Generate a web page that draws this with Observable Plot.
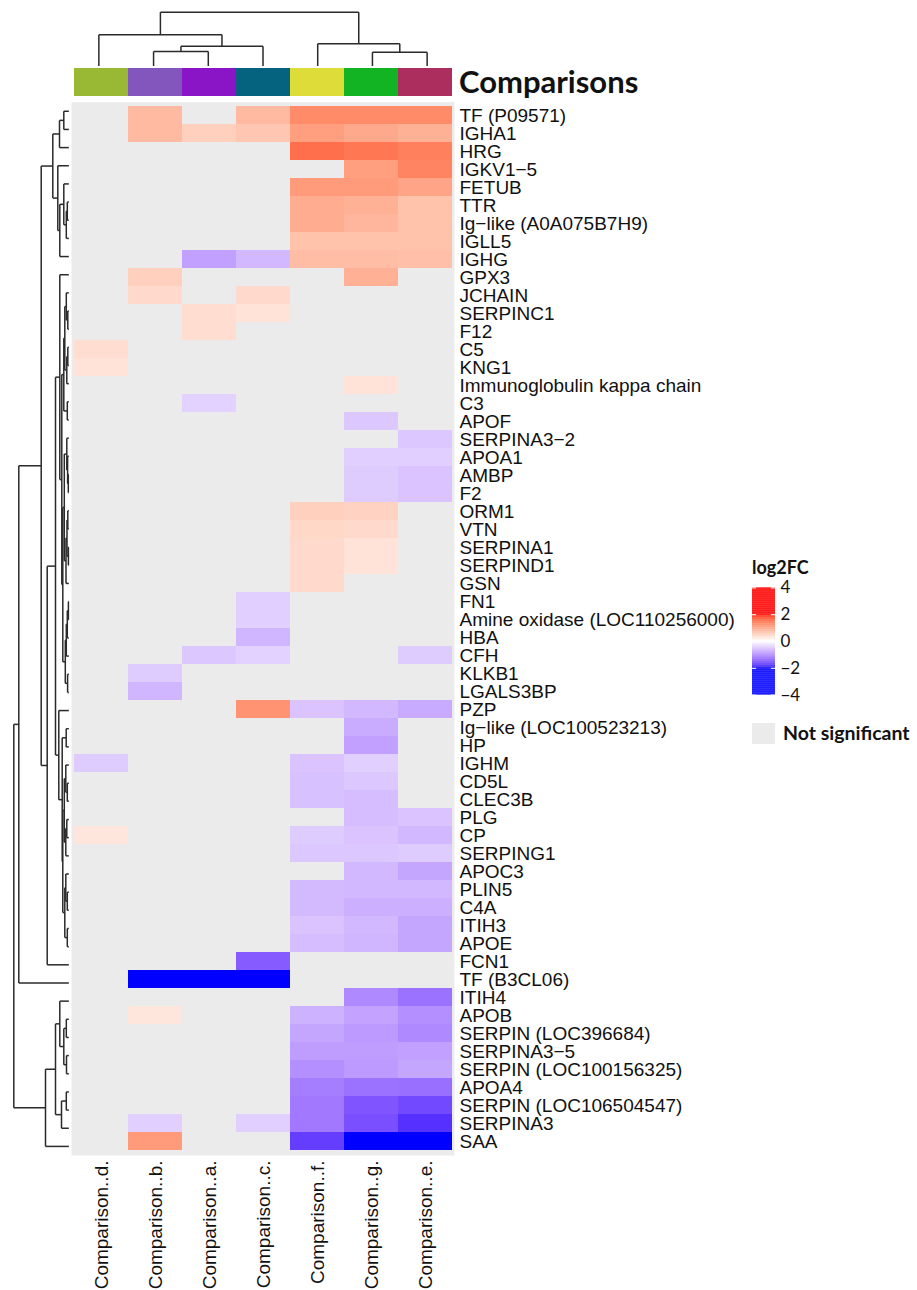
<!DOCTYPE html>
<html><head><meta charset="utf-8">
<script src="https://cdn.jsdelivr.net/npm/d3@7"></script>
<script src="https://cdn.jsdelivr.net/npm/@observablehq/plot@0.6"></script>
<style>
html,body{margin:0;padding:0;background:#fff;}
#chart{position:relative;width:917px;height:1290px;overflow:hidden;font-family:"Liberation Sans",Arial,sans-serif;}
#chart > *{position:absolute;}
.lbl{font-family:Lato,"Liberation Sans",sans-serif;font-weight:bold;color:#111;white-space:nowrap;}
</style></head><body><div id="chart"></div>
<script>
// ---------- data ----------
const columns = ["Comparison..d.", "Comparison..b.", "Comparison..a.", "Comparison..c.", "Comparison..f.", "Comparison..g.", "Comparison..e."];
const columnColors = ["#99B935", "#8356BE", "#8A15C7", "#06637F", "#DEDC38", "#13B424", "#AC2E5E"];
const rows = ["TF (P09571)", "IGHA1", "HRG", "IGKV1\u22125", "FETUB", "TTR", "Ig\u2212like (A0A075B7H9)", "IGLL5", "IGHG", "GPX3",
  "JCHAIN", "SERPINC1", "F12", "C5", "KNG1", "Immunoglobulin kappa chain", "C3", "APOF", "SERPINA3\u22122", "APOA1",
  "AMBP", "F2", "ORM1", "VTN", "SERPINA1", "SERPIND1", "GSN", "FN1", "Amine oxidase (LOC110256000)", "HBA",
  "CFH", "KLKB1", "LGALS3BP", "PZP", "Ig\u2212like (LOC100523213)", "HP", "IGHM", "CD5L", "CLEC3B", "PLG",
  "CP", "SERPING1", "APOC3", "PLIN5", "C4A", "ITIH3", "APOE", "FCN1", "TF (B3CL06)", "ITIH4",
  "APOB", "SERPIN (LOC396684)", "SERPINA3\u22125", "SERPIN (LOC100156325)", "APOA4", "SERPIN (LOC106504547)", "SERPINA3", "SAA"];
const N = null; // not significant
const valuesD = [N,N,N,N,N,N,N,N,N,N, N,N,N,0.35,0.3,N,N,N,N,N, N,N,N,N,N,N,N,N,N,N, N,N,N,N,N,N,-0.43,N,N,N, 0.27,N,N,N,N,N,N,N,N,N, N,N,N,N,N,N,N,N];
const valuesB = [0.73,0.73,N,N,N,N,N,N,N,0.5, 0.4,N,N,N,N,N,N,N,N,N, N,N,N,N,N,N,N,N,N,N, N,-0.43,-0.62,N,N,N,N,N,N,N, N,N,N,N,N,N,N,N,-3,N, 0.27,N,N,N,N,N,-0.4,1.05];
const valuesA = [N,0.5,N,N,N,N,N,N,-0.8,N, N,0.35,0.35,N,N,N,-0.38,N,N,N, N,N,N,N,N,N,N,N,N,N, -0.47,N,N,N,N,N,N,N,N,N, N,N,N,N,N,N,N,N,-3,N, N,N,N,N,N,N,N,N];
const valuesC = [0.73,0.6,N,N,N,N,N,N,-0.6,N, 0.4,0.3,N,N,N,N,N,N,N,N, N,N,N,N,N,N,N,-0.4,-0.4,-0.62, -0.38,N,N,1.12,N,N,N,N,N,N, N,N,N,N,N,N,N,-1.4,-3,N, N,N,N,N,N,N,-0.4,N];
const valuesF = [1.2,1.0,1.45,N,1.05,0.87,0.87,0.65,0.7,N, N,N,N,N,N,N,N,N,N,N, N,N,0.5,0.42,0.4,0.4,0.4,N,N,N, N,N,N,-0.5,N,N,-0.5,-0.52,-0.52,N, -0.43,-0.47,N,-0.58,-0.58,-0.5,-0.55,N,N,N, -0.65,-0.75,-0.83,-0.95,-1.1,-1.15,-1.15,-1.65];
const valuesG = [1.2,0.9,1.38,1.0,1.05,0.82,0.77,0.65,0.7,0.83, N,N,N,N,N,0.3,N,-0.47,N,-0.4, -0.43,-0.43,0.48,0.4,0.3,0.3,N,N,N,N, N,N,N,-0.6,-0.7,-0.8,-0.4,-0.47,-0.55,-0.55, -0.5,-0.47,-0.6,-0.6,-0.67,-0.6,-0.62,N,N,-1.0, -0.78,-0.85,-0.83,-0.85,-1.2,-1.45,-1.5,-2.5];
const valuesE = [1.2,0.82,1.3,1.25,0.95,0.65,0.65,0.65,0.68,N, N,N,N,N,N,N,N,N,-0.47,-0.4, -0.5,-0.5,N,N,N,N,N,N,N,N, -0.43,N,N,-0.72,N,N,N,N,N,-0.5, -0.6,-0.43,-0.75,-0.6,-0.67,-0.75,-0.75,N,N,-1.2, -0.95,-1.0,-0.8,-0.75,-1.23,-1.55,-1.75,-2.5];
const columnValues = [valuesD, valuesB, valuesA, valuesC, valuesF, valuesG, valuesE];

// dendrograms: [left, right, merge height]
const columnTree = [["Comparison..d.", [["Comparison..b.", "Comparison..a.", 14.7], "Comparison..c.", 20], 31.4],
                    ["Comparison..f.", ["Comparison..g.", "Comparison..e.", 14], 22.4], 54];
const rowTree = [
  [
    [
      [[["TF (P09571)", "IGHA1", 5], "HRG", 9.3],
       ["IGKV1\u22125", [["FETUB", [["TTR", "Ig\u2212like (A0A075B7H9)", 1.5], "IGLL5", 2.5], 5], "IGHG", 9], 11], 16],
      [
        [
          ["GPX3",
            [
              [[["JCHAIN", ["SERPINC1", "F12", 1], 2.5], [["C5", "KNG1", 1], "Immunoglobulin kappa chain", 2], 4], ["C3", "APOF", 1.5], 5],
              [
                [["SERPINA3\u22122", ["APOA1", ["AMBP", "F2", 0.5], 1.2], 2], [[["ORM1", "VTN", 1], ["SERPINA1", "SERPIND1", 0.4], 1.8], "GSN", 2.8], 4.5],
                [[[["FN1", "Amine oxidase (LOC110256000)", 0.4], "HBA", 1.5], "CFH", 2.5], ["KLKB1", "LGALS3BP", 1.2], 3.5],
              6],
            7],
          9],
          ["PZP",
            [["Ig\u2212like (LOC100523213)", "HP", 2.6],
             [[["IGHM", ["CD5L", "CLEC3B", 1.5], 3], [["PLG", "CP", 2], "SERPING1", 3], 4.5],
              [["APOC3", ["PLIN5", "C4A", 1.5], 3], ["ITIH3", "APOE", 1.5], 4], 6], 6.6],
          10],
        13.3],
        "FCN1", 21.6],
      27.6],
    "TF (B3CL06)", 50],
  [
    [["ITIH4", [["APOB", "SERPIN (LOC396684)", 2.5], ["SERPINA3\u22125", "SERPIN (LOC100156325)", 2.3], 5], 9],
     [["APOA4", "SERPIN (LOC106504547)", 2.5], "SERPINA3", 7.3], 13.3],
    "SAA", 23.3],
  55];
const legendTicks = [-4, -2, 0, 2, 4];

// ---------- helpers ----------
function dendro(node, order, segs) {
  if (typeof node === "string") return {p: order.indexOf(node) + 0.5, h: 0};
  const [l, r, h] = node;
  const a = dendro(l, order, segs), b = dendro(r, order, segs);
  segs.push({p1: a.p, h1: h, p2: b.p, h2: h});
  segs.push({p1: a.p, h1: a.h, p2: a.p, h2: h});
  segs.push({p1: b.p, h1: b.h, p2: b.p, h2: h});
  return {p: (a.p + b.p) / 2, h};
}
const colorScale = {type: "linear", domain: [-2, 0, 2], range: ["#0000ff", "#ffffff", "#ff0000"], interpolate: d3.interpolateLab, clamp: true};
const fmt = d => d < 0 ? "\u2212" + Math.abs(d) : String(d);
const chart = document.getElementById("chart");
function place(el, left, top) { el.style.left = left + "px"; el.style.top = top + "px"; chart.appendChild(el); return el; }

// geometry
const W = 917, H = 1290, HL = 71, HR = 454, HT = 101.7, HB = 1155;

// ---------- main heatmap ----------
const cells = [];
rows.forEach((r, i) => columns.forEach((c, j) => { const v = columnValues[j][i]; if (v != null) cells.push({row: r, col: c, v}); }));
const main = Plot.plot({
  width: W, height: H, marginTop: HT, marginBottom: H - HB, marginLeft: HL, marginRight: W - HR,
  style: {fontFamily: "Liberation Sans, Arial, sans-serif", color: "#111", background: "transparent"},
  x: {domain: columns, padding: 0, label: null, axis: null},
  y: {domain: rows, padding: 0, label: null, axis: null},
  color: colorScale,
  marks: [
    Plot.frame({fill: "#EBEBEB", stroke: null}),
    Plot.cell(cells, {x: "col", y: "row", fill: "v", inset: 0, shapeRendering: "crispEdges"}),
    Plot.axisX({anchor: "bottom", tickSize: 0, tickRotate: -90, tickPadding: 5, fontSize: 19, label: null}),
    Plot.axisY({anchor: "right", tickSize: 0, tickPadding: 5, fontSize: 19, label: null})
  ]
});
place(main, 0, 0);

// ---------- column dendrogram ----------
const colSegs = [];
dendro(columnTree, columns, colSegs);
const colDen = Plot.plot({
  width: W, height: 66, marginTop: 11.7, marginBottom: 0.3, marginLeft: HL, marginRight: W - HR,
  x: {domain: [0, columns.length], axis: null}, y: {domain: [0, columnTree[2]], axis: null},
  style: {background: "transparent"},
  marks: [Plot.link(colSegs, {x1: "p1", x2: "p2", y1: "h1", y2: "h2", stroke: "#2a2a2a", strokeWidth: 1.5})]
});
place(colDen, 0, 0);

// ---------- annotation bar ----------
const annot = Plot.plot({
  width: W, height: 28, marginTop: 0, marginBottom: 0, marginLeft: HL, marginRight: W - HR,
  x: {domain: columns, padding: 0, axis: null},
  color: {type: "ordinal", domain: columns, range: columnColors},
  style: {background: "transparent"},
  marks: [Plot.cell(columns, {x: d => d, fill: d => d, inset: 0})]
});
place(annot, 0, 68);
const annTitle = document.createElement("div");
annTitle.className = "lbl"; annTitle.textContent = "Comparisons";
annTitle.style.fontSize = "31px"; annTitle.style.lineHeight = "28px";
place(annTitle, 459, 67);

// ---------- row dendrogram ----------
const rowSegs = [];
dendro(rowTree, rows, rowSegs);
const rowDen = Plot.plot({
  width: HL, height: H, marginTop: HT, marginBottom: H - HB, marginLeft: 13.3, marginRight: 2.7,
  x: {domain: [0, rowTree[2]], reverse: true, axis: null},
  y: {domain: [0, rows.length], reverse: true, axis: null},
  style: {background: "transparent"},
  marks: [Plot.link(rowSegs, {x1: "h1", x2: "h2", y1: "p1", y2: "p2", stroke: "#2a2a2a", strokeWidth: 1.5})]
});
place(rowDen, 0, 0);

// ---------- legend ----------
const legTitle = document.createElement("div");
legTitle.className = "lbl"; legTitle.textContent = "log2FC"; legTitle.style.fontSize = "18px"; legTitle.style.lineHeight = "20px";
place(legTitle, 752, 557);
const steps = d3.range(-4, 4, 0.05).map(v => ({y1: v, y2: Math.min(4, v + 0.06), v: v + 0.025}));
const legend = Plot.plot({
  width: 80, height: 130, marginTop: 12.4, marginBottom: 10.4, marginLeft: 12, marginRight: 45,
  x: {domain: [0, 1], axis: null},
  y: {domain: [-4, 4], axis: null},
  color: colorScale,
  style: {fontFamily: "Lato, Liberation Sans, sans-serif", color: "#111", background: "transparent"},
  marks: [
    Plot.rect(steps, {x1: 0, x2: 1, y1: "y1", y2: "y2", fill: "v"}),
    Plot.ruleY(legendTicks, {x1: 0, x2: 0.18, stroke: "white", strokeWidth: 1}),
    Plot.ruleY(legendTicks, {x1: 0.82, x2: 1, stroke: "white", strokeWidth: 1}),
    Plot.axisY(legendTicks, {anchor: "right", tickSize: 0, tickPadding: 5, fontSize: 17, tickFormat: fmt, label: null})
  ]
});
place(legend, 740, 575);
const nsBox = document.createElement("div");
nsBox.style.width = "23px"; nsBox.style.height = "21px"; nsBox.style.background = "#EBEBEB";
place(nsBox, 752, 723);
const nsText = document.createElement("div");
nsText.className = "lbl"; nsText.textContent = "Not significant"; nsText.style.fontSize = "19.5px"; nsText.style.lineHeight = "22px";
place(nsText, 783, 722);
</script>
</body></html>
